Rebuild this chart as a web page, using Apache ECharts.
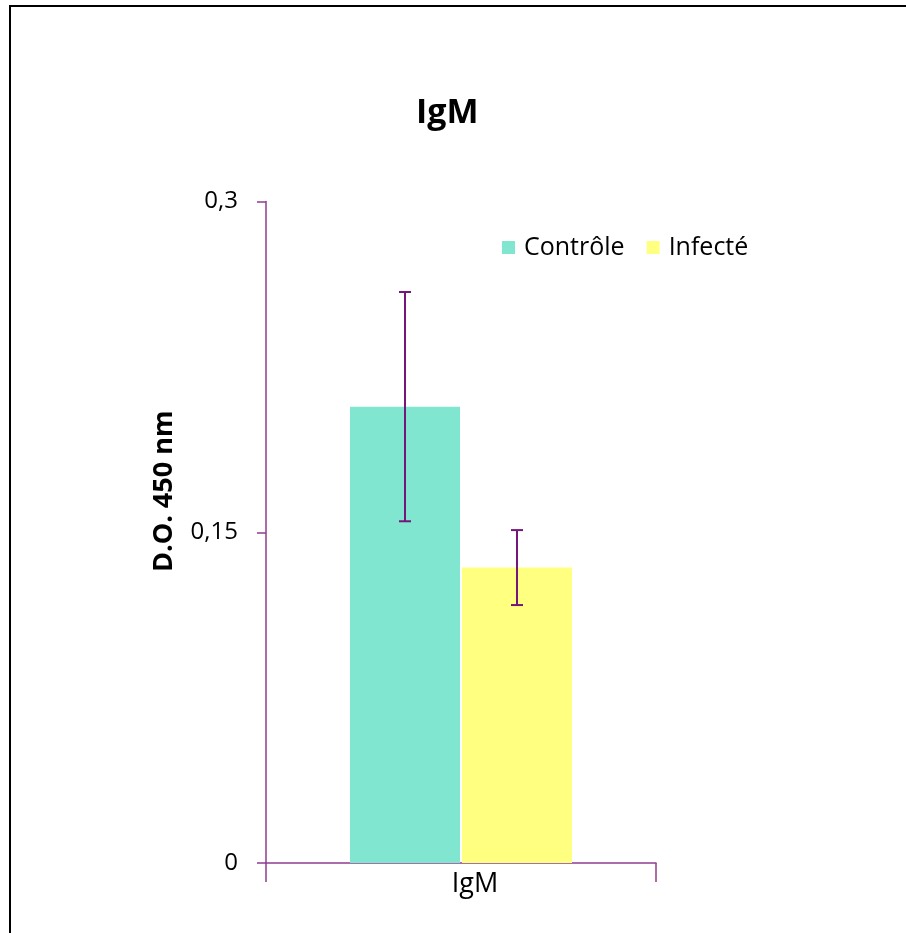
<!DOCTYPE html>
<html>
<head>
<meta charset="utf-8">
<script src="https://cdn.jsdelivr.net/npm/echarts@6/dist/echarts.min.js"></script>
<style>
  html, body { margin: 0; padding: 0; background: #fff; }
  #chart { width: 906px; height: 933px; }
</style>
</head>
<body>
<div id="chart"></div>
<script>
// data
var categories = ['IgM'];
var seriesNames = ['Contrôle', 'Infecté'];
var controleMean = [0.207];
var controleErr = [0.052];
var infecteMean = [0.134];
var infecteErr = [0.017];
var yTicks = [0, 0.15, 0.3];

var colors = ['#81e6cf', '#ffff80'];
var axisColor = '#8e3c8e';
var errColor = '#74167a';
var barWidth = 110;
var barGapPx = 2;
var font = '"Open Sans", sans-serif';

function errorData(means, errs) {
  return means.map(function (m, i) {
    return [i, m - errs[i], m + errs[i]];
  });
}

function errorRender(offsetSign) {
  return function (params, api) {
    var low = api.coord([api.value(0), api.value(1)]);
    var high = api.coord([api.value(0), api.value(2)]);
    var x = low[0] + offsetSign * (barWidth + barGapPx) / 2;
    var cap = 6;
    var style = { stroke: errColor, lineWidth: 2, fill: null };
    return {
      type: 'group',
      children: [
        { type: 'line', shape: { x1: x, y1: high[1], x2: x, y2: low[1] }, style: style },
        { type: 'line', shape: { x1: x - cap, y1: high[1], x2: x + cap, y2: high[1] }, style: style },
        { type: 'line', shape: { x1: x - cap, y1: low[1], x2: x + cap, y2: low[1] }, style: style }
      ]
    };
  };
}

// category boundary ticks, drawn below the x axis
function tickRender(params, api) {
  var band = api.size([1, 0])[0];
  var c = api.coord([api.value(0), 0]);
  var style = { stroke: axisColor, lineWidth: 1.5 };
  return {
    type: 'group',
    children: [
      { type: 'line', shape: { x1: c[0] - band / 2, y1: c[1], x2: c[0] - band / 2, y2: c[1] + 19 }, style: style },
      { type: 'line', shape: { x1: c[0] + band / 2, y1: c[1], x2: c[0] + band / 2, y2: c[1] + 19 }, style: style }
    ]
  };
}

var chart = echarts.init(document.getElementById('chart'));

var option = {
  backgroundColor: '#fff',
  animation: false,
  color: colors,
  graphic: [{
    type: 'rect',
    shape: { x: 10, y: 6, width: 1200, height: 1200 },
    style: { fill: null, stroke: '#000', lineWidth: 2 },
    silent: true
  }],
  title: {
    text: 'IgM',
    left: 411,
    top: 91,
    textStyle: { fontFamily: font, fontWeight: 'bold', fontSize: 34, color: '#000' }
  },
  legend: {
    data: seriesNames,
    left: 497,
    top: 230,
    itemWidth: 13,
    itemHeight: 13,
    itemGap: 22,
    icon: 'rect',
    textStyle: { fontFamily: font, fontSize: 25, color: '#000', padding: [0, 0, 0, 4] }
  },
  grid: { left: 266, right: 250, top: 201.6, bottom: 70 },
  xAxis: {
    type: 'category',
    data: categories,
    axisLine: { lineStyle: { color: axisColor, width: 1.5 } },
    axisTick: { show: false },
    axisLabel: { margin: 8, fontFamily: font, fontSize: 27, color: '#000', padding: [0, 0, 0, 28] }
  },
  yAxis: {
    type: 'value',
    min: yTicks[0],
    max: yTicks[yTicks.length - 1],
    interval: yTicks[1] - yTicks[0],
    name: 'D.O. 450 nm',
    nameLocation: 'middle',
    nameRotate: 90,
    nameGap: 88,
    nameTextStyle: { fontFamily: font, fontWeight: 'bold', fontSize: 27, color: '#000', padding: [0, 0, 0, 82] },
    splitLine: { show: false },
    axisLine: { show: true, lineStyle: { color: axisColor, width: 1.5 } },
    axisTick: { show: true, length: 9, lineStyle: { color: axisColor, width: 1.5 } },
    axisLabel: {
      margin: 28,
      fontFamily: font,
      fontSize: 24,
      color: '#000',
      formatter: function (v) { return String(v).replace('.', ','); }
    }
  },
  series: [
    {
      name: seriesNames[0],
      type: 'bar',
      barWidth: barWidth,
      barGap: (barGapPx / barWidth * 100) + '%',
      data: controleMean
    },
    {
      name: seriesNames[1],
      type: 'bar',
      barWidth: barWidth,
      data: infecteMean
    },
    {
      type: 'custom',
      renderItem: errorRender(-1),
      data: errorData(controleMean, controleErr),
      z: 10,
      silent: true
    },
    {
      type: 'custom',
      renderItem: errorRender(1),
      data: errorData(infecteMean, infecteErr),
      z: 10,
      silent: true
    },
    {
      type: 'custom',
      renderItem: tickRender,
      data: categories.map(function (c, i) { return [i]; }),
      clip: false,
      silent: true
    }
  ]
};

chart.setOption(option);
</script>
</body>
</html>
